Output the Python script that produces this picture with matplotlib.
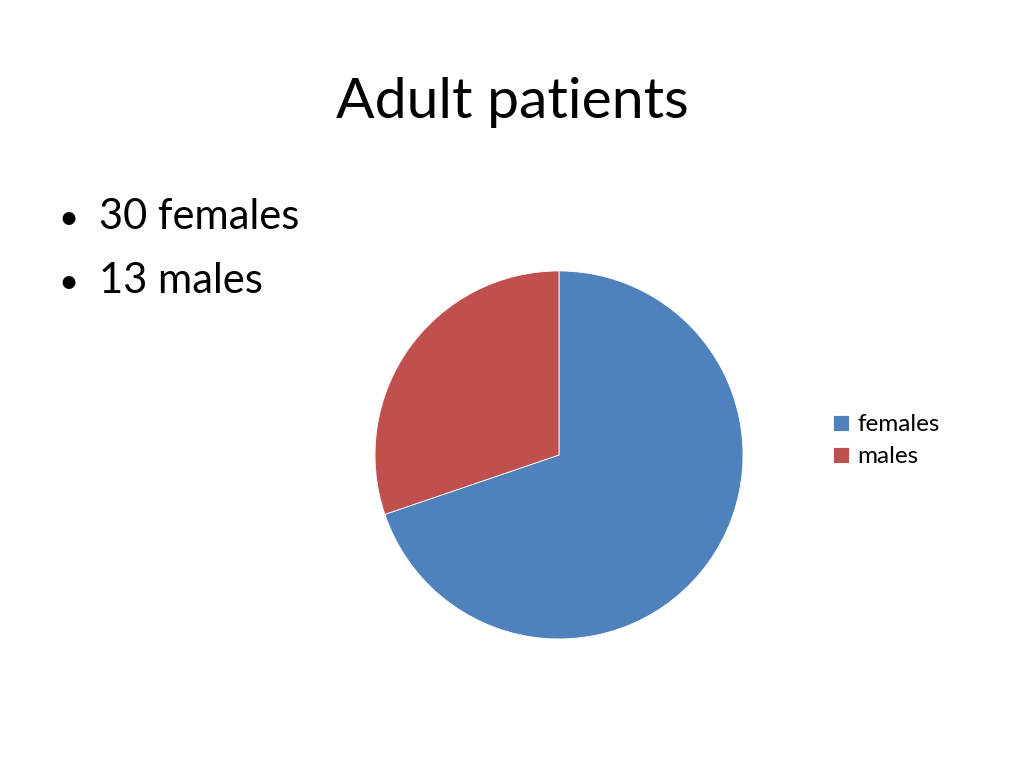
import matplotlib
matplotlib.use('Agg')
import matplotlib.pyplot as plt

plt.rcParams['font.family'] = ['Lato', 'DejaVu Sans']

labels = ['females', 'males']
counts = [30, 13]
colors = ['#4F81BD', '#C0504D']
title = 'Adult patients'
bullets = ['30 females', '13 males']

fig = plt.figure(figsize=(10.24, 7.68), dpi=100)

# slide title and bullet text
fig.text(0.5, 0.846, title, ha='center', va='baseline', fontsize=41)
for i, b in enumerate(bullets):
    yb = 0.702 - i * 0.084
    fig.text(0.057, yb, '\u2022', ha='left', va='baseline', fontsize=25)
    fig.text(0.097, yb, b, ha='left', va='baseline', fontsize=30)

# pie, clockwise from 12 o'clock
ax = fig.add_axes([0.3662, 0.1680, 0.3594, 0.4792])
wedges, _ = ax.pie(counts, colors=colors, startangle=90, counterclock=False,
                   radius=1.0, wedgeprops={'linewidth': 0.6, 'edgecolor': 'white'})
ax.set_xlim(-1, 1)
ax.set_ylim(-1, 1)
ax.set_aspect('equal')

ax.legend(wedges, labels, loc='center left', bbox_to_anchor=(0.792, 0.426),
          bbox_transform=fig.transFigure, frameon=False, fontsize=17.5,
          handlelength=0.65, handleheight=0.65, handletextpad=0.35,
          labelspacing=0.45)

fig.savefig('out.png', dpi=100)
